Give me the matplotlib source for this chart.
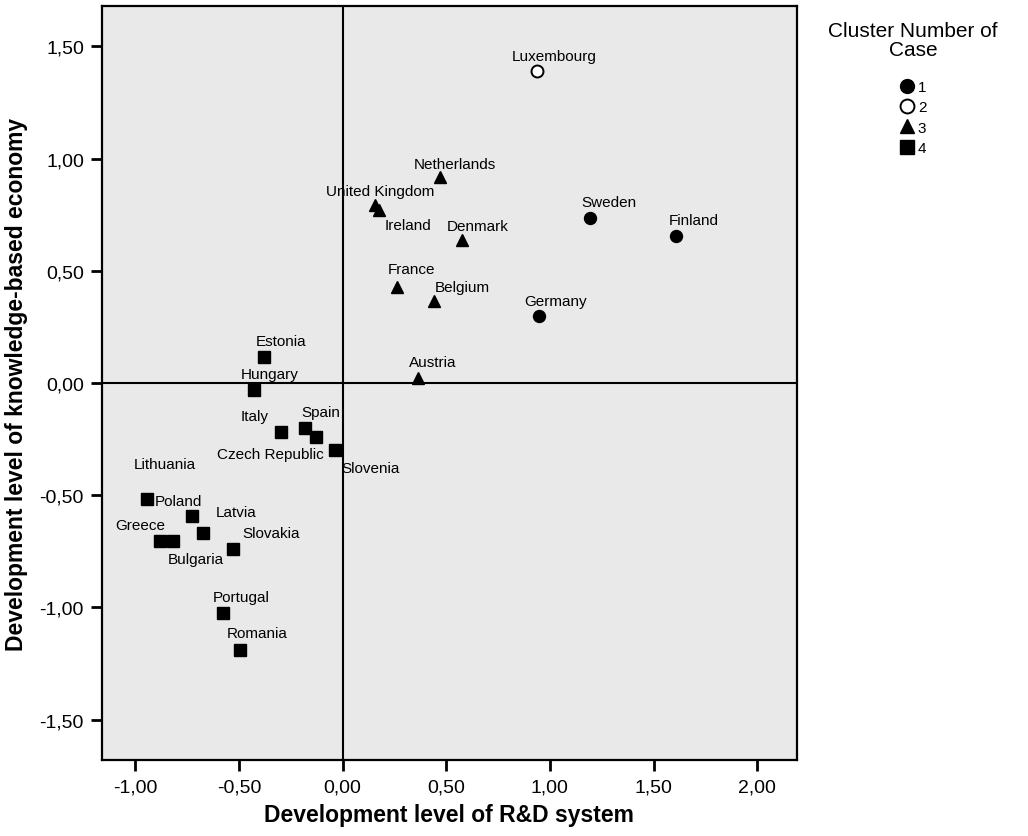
import matplotlib.pyplot as plt
from matplotlib.lines import Line2D

plt.rcParams['font.family'] = ['Liberation Sans', 'DejaVu Sans']

# data
countries = ['Luxembourg', 'Netherlands', 'United Kingdom', 'Ireland', 'Sweden',
             'Finland', 'Denmark', 'France', 'Belgium', 'Germany', 'Austria',
             'Estonia', 'Hungary', 'Italy', 'Spain', 'Czech Republic', 'Slovenia',
             'Lithuania', 'Poland', 'Latvia', 'Greece', 'Bulgaria', 'Slovakia',
             'Portugal', 'Romania']
rd_level = [0.936, 0.472, 0.156, 0.175, 1.196,
            1.610, 0.575, 0.261, 0.439, 0.946, 0.363,
            -0.379, -0.427, -0.297, -0.182, -0.129, -0.037,
            -0.943, -0.726, -0.673, -0.880, -0.818, -0.528,
            -0.577, -0.495]
ke_level = [1.391, 0.919, 0.794, 0.771, 0.737,
            0.656, 0.637, 0.429, 0.366, 0.300, 0.024,
            0.117, -0.030, -0.217, -0.199, -0.239, -0.297,
            -0.515, -0.591, -0.667, -0.702, -0.702, -0.738,
            -1.027, -1.192]
cluster = [2, 3, 3, 3, 1,
           1, 3, 3, 3, 1, 3,
           4, 4, 4, 4, 4, 4,
           4, 4, 4, 4, 4, 4,
           4, 4]
ticks = [-1.0, -0.5, 0.0, 0.5, 1.0, 1.5, 2.0]
yticks = [-1.5, -1.0, -0.5, 0.0, 0.5, 1.0, 1.5]

# marker style per cluster
styles = {
    1: dict(marker='o', mfc='black', mec='black', ms=8.6),
    2: dict(marker='o', mfc='white', mec='black', ms=8.6, mew=1.4),
    3: dict(marker='^', mfc='black', mec='black', ms=9.2),
    4: dict(marker='s', mfc='black', mec='black', ms=9.2),
}

# label offsets in pixels (dx, dy), dy positive = up
label_off = {
    'Luxembourg': (18, 15), 'Netherlands': (15, 13), 'United Kingdom': (5, 14),
    'Ireland': (29, -15), 'Sweden': (18, 16), 'Finland': (17, 16),
    'Denmark': (16, 14), 'France': (15, 18), 'Belgium': (29, 14),
    'Germany': (17, 15), 'Austria': (15, 16), 'Estonia': (17, 16),
    'Hungary': (16, 16), 'Italy': (-26, 16), 'Spain': (16, 16),
    'Czech Republic': (-45, -17), 'Slovenia': (36, -18), 'Lithuania': (18, 35),
    'Poland': (-14, 15), 'Latvia': (33, 21), 'Greece': (-20, 16),
    'Bulgaria': (23, -18), 'Slovakia': (38, 16), 'Portugal': (18, 16),
    'Romania': (17, 17),
}

fig = plt.figure(figsize=(10.28, 8.37), dpi=100)
ax = fig.add_axes([0.0992, 0.0908, 0.6757, 0.9008])
ax.set_facecolor('#e9e9e9')

ax.axvline(0, color='black', lw=1.5, zorder=1)
ax.axhline(0, color='black', lw=1.5, zorder=1)

for c in [1, 2, 3, 4]:
    xs = [x for x, k in zip(rd_level, cluster) if k == c]
    ys = [y for y, k in zip(ke_level, cluster) if k == c]
    ax.plot(xs, ys, linestyle='none', zorder=3, **styles[c])

for name, x, y in zip(countries, rd_level, ke_level):
    dx, dy = label_off[name]
    ax.annotate(name, (x, y), xytext=(dx, dy), textcoords='offset pixels',
                ha='center', va='center', fontsize=11, zorder=4)

ax.set_xlim(-1.16, 2.19)
ax.set_ylim(-1.68, 1.68)
ax.set_xticks(ticks)
ax.set_xticklabels(['{:.2f}'.format(t).replace('.', ',') for t in ticks])
ax.set_yticks(yticks)
ax.set_yticklabels(['{:.2f}'.format(t).replace('.', ',') for t in yticks])
ax.tick_params(direction='out', length=8, width=2, labelsize=14, pad=5)
for s in ax.spines.values():
    s.set_linewidth(1.6)

ax.set_xlabel('Development level of R&D system', fontsize=16.5,
              fontweight='bold', labelpad=6)
ax.set_ylabel('Development level of knowledge-based economy', fontsize=16.5,
              fontweight='bold', labelpad=8)

# legend
fig.text(913 / 1028, 1 - 41 / 837, 'Cluster Number of\nCase', ha='center',
         va='center', fontsize=15, linespacing=0.95)
leg_styles = {c: dict(styles[c], ms=10) for c in styles}
handles = [Line2D([], [], linestyle='none', **leg_styles[c]) for c in [1, 2, 3, 4]]
fig.legend(handles, ['1', '2', '3', '4'], loc='upper left',
           bbox_to_anchor=(901 / 1028, 1 - 81 / 837), frameon=False,
           fontsize=11, handlelength=0.8, handletextpad=0.3,
           labelspacing=0.42, borderpad=0, borderaxespad=0)

fig.savefig('out.png', dpi=100)
